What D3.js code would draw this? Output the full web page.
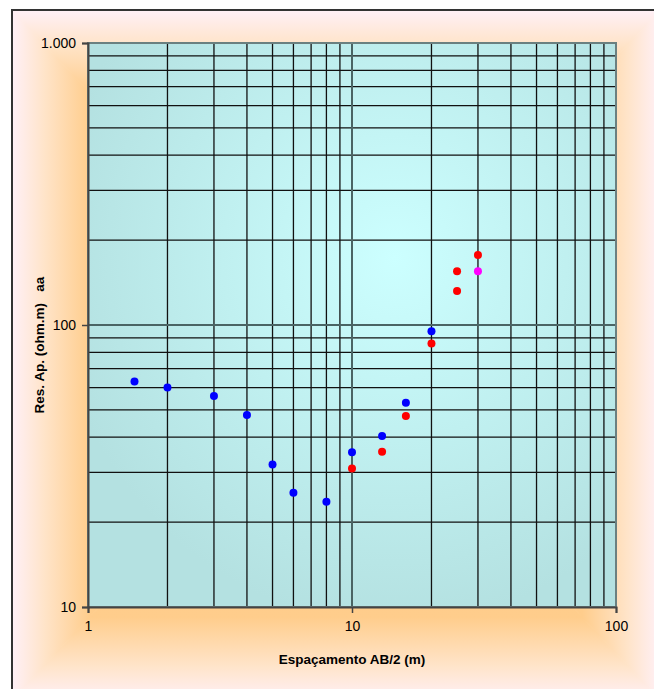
<!DOCTYPE html>
<html>
<head>
<meta charset="utf-8">
<script src="https://cdn.jsdelivr.net/npm/d3@7"></script>
<style>
  body { margin: 0; background: #fff; }
  svg { display: block; font-family: Arial, "Liberation Sans", sans-serif; }
</style>
</head>
<body>
<svg id="chart"></svg>
<script>
// data
const blueX = [1.5, 2, 3, 4, 5, 6, 8, 10, 13, 16, 20];
const blueY = [63, 60, 56, 48, 32, 25.4, 23.6, 35.4, 40.4, 53, 95];
const redX = [10, 13, 16, 20, 25, 25, 30];
const redY = [31, 35.5, 47.6, 86, 155, 132, 177];
const pinkX = [30];
const pinkY = [155];
const xTicks = [1, 10, 100];
const yTicks = [10, 100, 1000];

const W = 654, H = 689;
const m = { left: 88, top: 43, right: 616, bottom: 607 };

const svg = d3.select('#chart').attr('width', W).attr('height', H);
const defs = svg.append('defs');

// chart area: "from centre" rectangular gradient, built from 4 triangles
const area = { x0: 12, y0: 10, x1: 660, y1: 700 };
const cx = (area.x0 + area.x1) / 2, cy = (area.y0 + area.y1) / 2;
const outerStops = [[0, '#ffc47a'], [0.76, '#ffcd8c'], [0.9, '#ffe4c9'], [1, '#fff0f7']];
const sides = [
  { id: 'gTop', pts: [[area.x0, area.y0], [area.x1, area.y0]], end: [cx, area.y0] },
  { id: 'gBot', pts: [[area.x0, area.y1], [area.x1, area.y1]], end: [cx, area.y1] },
  { id: 'gLeft', pts: [[area.x0, area.y0], [area.x0, area.y1]], end: [area.x0, cy] },
  { id: 'gRight', pts: [[area.x1, area.y0], [area.x1, area.y1]], end: [area.x1, cy] }
];
sides.forEach(s => {
  const lg = defs.append('linearGradient').attr('id', s.id).attr('gradientUnits', 'userSpaceOnUse')
    .attr('x1', cx).attr('y1', cy).attr('x2', s.end[0]).attr('y2', s.end[1]);
  outerStops.forEach(st => lg.append('stop').attr('offset', st[0]).attr('stop-color', st[1]));
  svg.append('polygon')
    .attr('points', [s.pts[0], s.pts[1], [cx, cy]].map(p => p.join(',')).join(' '))
    .attr('fill', `url(#${s.id})`).attr('stroke', `url(#${s.id})`).attr('stroke-width', 1);
});
svg.append('rect').attr('x', area.x0).attr('y', area.y0)
  .attr('width', area.x1 - area.x0).attr('height', area.y1 - area.y0)
  .attr('fill', 'none').attr('stroke', '#333').attr('stroke-width', 2);

// plot area gradient
const g2 = defs.append('radialGradient').attr('id', 'plotBg')
  .attr('cx', '58%').attr('cy', '38%').attr('r', '65%');
g2.append('stop').attr('offset', '0%').attr('stop-color', '#ccffff');
g2.append('stop').attr('offset', '100%').attr('stop-color', '#b4e1e1');

const x = d3.scaleLog().domain([1, 100]).range([m.left, m.right]);
const y = d3.scaleLog().domain([10, 1000]).range([m.bottom, m.top]);

svg.append('rect').attr('x', m.left).attr('y', m.top)
  .attr('width', m.right - m.left).attr('height', m.bottom - m.top)
  .attr('fill', 'url(#plotBg)');

// grid lines
const minorX = [], minorY = [];
[1, 10].forEach(d => { for (let k = 2; k <= 9; k++) minorX.push(d * k); });
[10, 100].forEach(d => { for (let k = 2; k <= 9; k++) minorY.push(d * k); });

const grid = svg.append('g');
grid.selectAll('.vx').data(minorX).enter().append('line')
  .attr('x1', d => x(d)).attr('x2', d => x(d))
  .attr('y1', m.top).attr('y2', m.bottom)
  .attr('stroke', '#111').attr('stroke-width', 1.3);
grid.selectAll('.hy').data(minorY).enter().append('line')
  .attr('y1', d => y(d)).attr('y2', d => y(d))
  .attr('x1', m.left).attr('x2', m.right)
  .attr('stroke', '#111').attr('stroke-width', 1.3);
// major grid, greyer and a bit wider
grid.selectAll('.vmaj').data([10]).enter().append('line')
  .attr('x1', d => x(d)).attr('x2', d => x(d))
  .attr('y1', m.top).attr('y2', m.bottom)
  .attr('stroke', '#4a6464').attr('stroke-width', 2);
grid.selectAll('.hmaj').data([100]).enter().append('line')
  .attr('y1', d => y(d)).attr('y2', d => y(d))
  .attr('x1', m.left).attr('x2', m.right)
  .attr('stroke', '#4a6464').attr('stroke-width', 2);

// plot border
svg.append('rect').attr('x', m.left).attr('y', m.top)
  .attr('width', m.right - m.left).attr('height', m.bottom - m.top)
  .attr('fill', 'none').attr('stroke', '#6a8080').attr('stroke-width', 2);

// axes
const xAxis = d3.axisBottom(x).tickValues(xTicks).tickFormat(d3.format('d')).tickSize(6).tickPadding(6);
const yAxis = d3.axisLeft(y).tickValues(yTicks)
  .tickFormat(d => d3.format(',')(d).replace(',', '.')).tickSize(6).tickPadding(6);

const gx = svg.append('g').attr('transform', `translate(0,${m.bottom})`).call(xAxis);
const gy = svg.append('g').attr('transform', `translate(${m.left},0)`).call(yAxis);
[gx, gy].forEach(g => {
  g.select('.domain').attr('stroke', '#444').attr('stroke-width', 2);
  g.selectAll('.tick line').attr('stroke', '#444').attr('stroke-width', 1.5);
  g.selectAll('.tick text').attr('fill', '#000').style('font-size', '14px')
    .style('font-family', 'Arial, "Liberation Sans", sans-serif');
});
gx.selectAll('.tick text').attr('dy', '0.85em');

// axis titles
svg.append('text').attr('x', (m.left + m.right) / 2).attr('y', 664)
  .attr('text-anchor', 'middle').style('font-size', '13.5px').style('font-weight', 'bold')
  .text('Espaçamento AB/2 (m)');
svg.append('text').attr('transform', 'translate(39,345) rotate(-90)')
  .attr('text-anchor', 'middle').attr('dy', '0.35em')
  .style('font-size', '13.5px').style('font-weight', 'bold')
  .style('white-space', 'pre')
  .text('Res. Ap. (ohm.m)   aa');

// points
const series = [
  { xs: blueX, ys: blueY, color: '#0000ff' },
  { xs: redX, ys: redY, color: '#ff0000' },
  { xs: pinkX, ys: pinkY, color: '#ff00ff' }
];
series.forEach(s => {
  svg.append('g').selectAll('circle').data(s.xs.map((v, i) => [v, s.ys[i]])).enter()
    .append('circle')
    .attr('cx', d => x(d[0])).attr('cy', d => y(d[1]))
    .attr('r', 4).attr('fill', s.color);
});
</script>
</body>
</html>
